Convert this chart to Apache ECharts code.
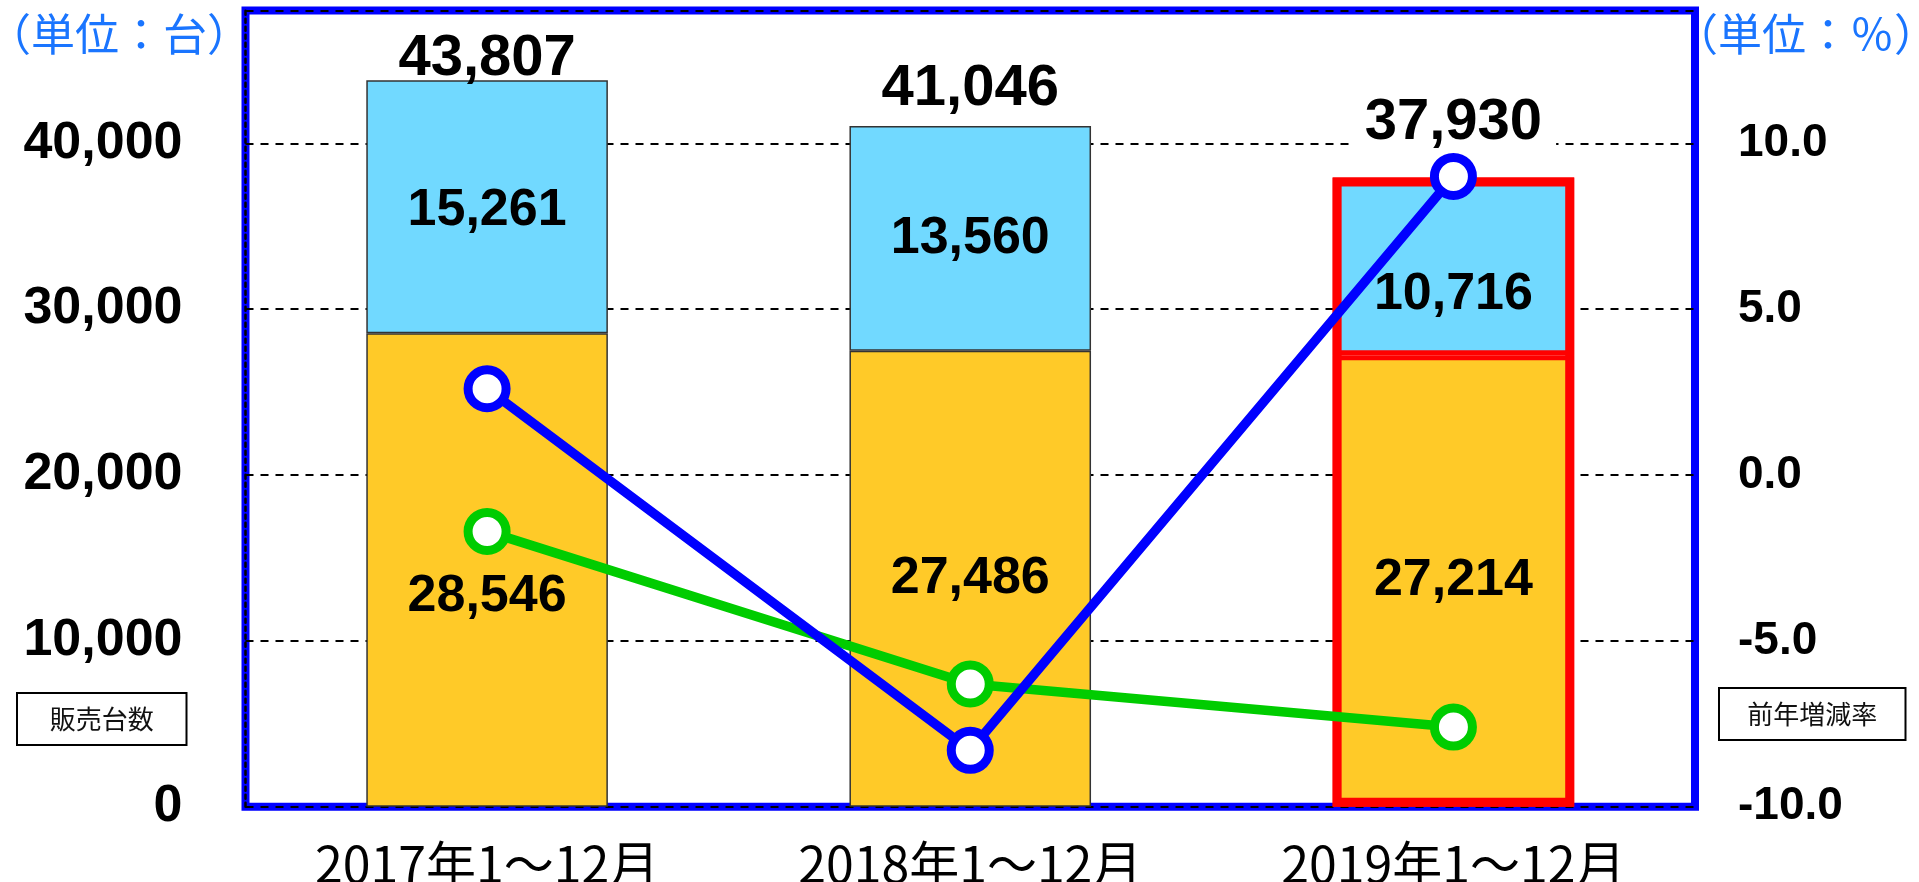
<!DOCTYPE html>
<html>
<head>
<meta charset="utf-8">
<script src="https://cdn.jsdelivr.net/npm/echarts@6/dist/echarts.min.js"></script>
<style>
html,body{margin:0;padding:0;background:#fff;}
#chart{width:1919px;height:882px;}
</style>
</head>
<body>
<div id="chart"></div>
<script>
// ---- data ----
const categories = ['2017年1～12月', '2018年1～12月', '2019年1～12月'];
const lowerUnits = [28546, 27486, 27214];   // orange segment
const upperUnits = [15261, 13560, 10716];   // light blue segment
const greenRate = [-1.7, -6.3, -7.6];       // 前年増減率 (green)
const blueRate = [2.6, -8.3, 9.0];          // 前年増減率 (blue)
const leftAxisTicks = [0, 10000, 20000, 30000, 40000];
const rightAxisTicks = [-10, -5, 0, 5, 10];
const totals = lowerUnits.map((v, i) => v + upperUnits[i]);

// ---- styles ----
const NUM_FONT = '"Liberation Sans", Arial, sans-serif';
const JP_FONT = '"Noto Sans CJK JP", sans-serif';
const highlightIndex = 2;
const totalOffsets = [-21, -37, -55];
const lowerOffsets = [27, 0, 0];
const upperOffsets = [4, 0, 28];

const chart = echarts.init(document.getElementById('chart'));

function barItems(values, color, offsets) {
  return values.map((v, i) => ({
    value: v,
    itemStyle: i === highlightIndex
      ? { color: color, borderColor: '#ff0000', borderWidth: 5 }
      : { color: color, borderColor: '#333333', borderWidth: 1.5 },
    label: { offset: [0, offsets[i]] }
  }));
}

const segLabel = {
  show: true, position: 'inside', fontSize: 52, fontWeight: 'bold', color: '#000',
  fontFamily: NUM_FONT, formatter: p => p.value.toLocaleString('en-US')
};

const option = {
  animation: false,
  backgroundColor: '#ffffff',
  grid: {
    left: 245.5, right: 224, top: 10.6, bottom: 75.3,
    outerBoundsMode: 'none', containLabel: false,
    show: true, borderColor: '#0000ff', borderWidth: 8, backgroundColor: 'transparent'
  },
  xAxis: {
    type: 'category',
    data: categories,
    axisLine: { show: false },
    axisTick: { show: false },
    axisLabel: { margin: 32, fontSize: 50, color: '#000', fontFamily: JP_FONT }
  },
  yAxis: [
    {
      type: 'value', min: 0, max: 48000, interval: 10000, position: 'left',
      axisLine: { show: true, lineStyle: { color: '#000', width: 2.5, type: [4, 4] } },
      axisTick: { show: false },
      splitLine: { show: true, lineStyle: { color: '#000', width: 2, type: [8, 7] } },
      axisLabel: {
        margin: 63, fontSize: 52, fontWeight: 'bold', color: '#000', fontFamily: NUM_FONT,
        formatter: v => leftAxisTicks.includes(v) ? v.toLocaleString('en-US') : ''
      }
    },
    {
      type: 'value', min: -10, max: 14, interval: 5, position: 'right',
      axisLine: { show: false }, axisTick: { show: false }, splitLine: { show: false },
      axisLabel: {
        margin: 43, fontSize: 46, fontWeight: 'bold', color: '#000', fontFamily: NUM_FONT,
        formatter: v => rightAxisTicks.includes(v) ? v.toFixed(1) : ''
      }
    }
  ],
  series: [
    {
      name: '販売台数(下)', type: 'bar', stack: 'units', barWidth: '50%', barGap: '-100%',
      data: barItems(lowerUnits, '#ffca28', lowerOffsets),
      label: segLabel
    },
    {
      name: '販売台数(上)', type: 'bar', stack: 'units', barWidth: '50%', barGap: '-100%',
      data: barItems(upperUnits, '#71d9ff', upperOffsets),
      label: segLabel
    },
    {
      name: '強調枠', type: 'bar', barWidth: '50%', barGap: '-100%', z: 3, silent: true,
      data: totals.map((v, i) => i === highlightIndex ? v : '-'),
      itemStyle: { color: 'rgba(0,0,0,0)', borderColor: '#ff0000', borderWidth: 9 }
    },
    {
      name: '合計', type: 'scatter', yAxisIndex: 0, symbolSize: 0, z: 4,
      itemStyle: { opacity: 1 },
      data: totals.map((v, i) => ({
        value: v,
        label: {
          offset: [0, totalOffsets[i]],
          backgroundColor: i === highlightIndex ? '#ffffff' : 'transparent'
        }
      })),
      label: {
        show: true, position: 'inside', fontSize: 58, fontWeight: 'bold', color: '#000',
        fontFamily: NUM_FONT, padding: [0, 14],
        formatter: p => p.value.toLocaleString('en-US')
      }
    },
    {
      name: '前年増減率(緑)', type: 'line', yAxisIndex: 1, data: greenRate,
      symbol: 'circle', symbolSize: 38, z: 5,
      lineStyle: { color: '#00cc00', width: 9.5 },
      itemStyle: { color: '#ffffff', borderColor: '#00cc00', borderWidth: 9 }
    },
    {
      name: '前年増減率(青)', type: 'line', yAxisIndex: 1, data: blueRate,
      symbol: 'circle', symbolSize: 38, z: 6,
      lineStyle: { color: '#0000ff', width: 9.5 },
      itemStyle: { color: '#ffffff', borderColor: '#0000ff', borderWidth: 9 }
    }
  ],
  graphic: [
    { type: 'text', x: -13, y: 12, style: { text: '（単位：台）', font: '44px "Noto Sans CJK JP"', fill: '#1a75ff' } },
    { type: 'text', x: 1674, y: 12, style: { text: '（単位：％）', font: '44px "Noto Sans CJK JP"', fill: '#1a75ff' } },
    { type: 'rect', shape: { x: 17, y: 693, width: 169.5, height: 52 }, style: { fill: '#fff', stroke: '#000', lineWidth: 2 } },
    { type: 'text', x: 101.75, y: 719, style: { text: '販売台数', font: '26px "Noto Sans CJK JP"', fill: '#111', textAlign: 'center', textVerticalAlign: 'middle' } },
    { type: 'rect', shape: { x: 1719, y: 688, width: 186.5, height: 52 }, style: { fill: '#fff', stroke: '#000', lineWidth: 2 } },
    { type: 'text', x: 1812.25, y: 714, style: { text: '前年増減率', font: '26px "Noto Sans CJK JP"', fill: '#111', textAlign: 'center', textVerticalAlign: 'middle' } }
  ]
};
chart.setOption(option);
</script>
</body>
</html>
